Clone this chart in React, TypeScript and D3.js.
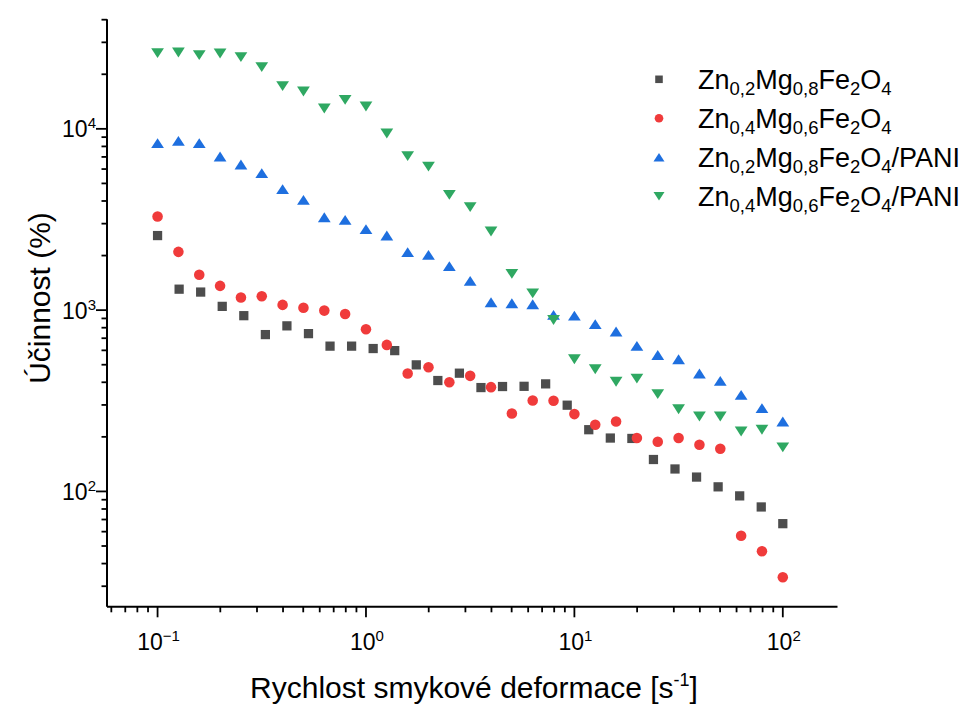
import React from 'react';
import * as d3 from 'd3';

// Shear rate values (s^-1)
const shearRate30 = [0.1, 0.1269, 0.161, 0.2043, 0.2593, 0.3291, 0.4175, 0.5298, 0.6723, 0.8532, 1.0826, 1.3738, 1.7433, 2.2122, 2.8072, 3.5622, 4.5204, 5.7362, 7.279, 9.2367, 11.721, 14.874, 18.874, 23.95, 30.392, 38.566, 48.939, 62.102, 78.805, 100];
const shearRate31 = [0.1, 0.1259, 0.1585, 0.1995, 0.2512, 0.3162, 0.3981, 0.5012, 0.631, 0.7943, 1, 1.259, 1.585, 1.995, 2.512, 3.162, 3.981, 5.012, 6.31, 7.943, 10, 12.59, 15.85, 19.95, 25.12, 31.62, 39.81, 50.12, 63.1, 79.43, 100];

// Efficiency (%)
const effZn02 = [2578, 1305, 1258, 1049, 932, 733, 819, 742, 633, 633, 614, 598, 499, 409, 449, 374, 379, 380, 392, 299, 219, 197, 196, 150, 133, 120, 106, 94.5, 82.1, 66.4];
const effZn04 = [3281, 2096, 1569, 1361, 1173, 1194, 1069, 1031, 994, 953, 785, 643, 447, 484, 400, 434, 376, 269, 317, 316, 267, 233, 243, 197, 188, 197, 181, 172, 57.0, 46.8, 33.6];
const effZn02Pani = [8340, 8585, 8340, 7035, 6355, 5695, 4648, 4058, 3256, 3147, 2797, 2578, 2088, 2018, 1748, 1450, 1106, 1092, 1078, 941, 933, 837, 762, 635, 566, 536, 447, 407, 341, 288, 243];
const effZn04Pani = [26170, 26370, 25510, 26030, 24870, 21900, 17200, 16060, 12940, 14450, 13280, 9420, 7070, 6190, 4325, 3700, 2713, 1585, 1237, 883, 536, 472, 403, 419, 344, 284, 259, 259, 214, 219, 175];

const xTickExps = [-1, 0, 1, 2];
const yTickExps = [2, 3, 4];

type Seg = { t: string; sub?: boolean };
const legendLabels: Seg[][] = [
  [{ t: 'Zn' }, { t: '0,2', sub: true }, { t: 'Mg' }, { t: '0,8', sub: true }, { t: 'Fe' }, { t: '2', sub: true }, { t: 'O' }, { t: '4', sub: true }],
  [{ t: 'Zn' }, { t: '0,4', sub: true }, { t: 'Mg' }, { t: '0,6', sub: true }, { t: 'Fe' }, { t: '2', sub: true }, { t: 'O' }, { t: '4', sub: true }],
  [{ t: 'Zn' }, { t: '0,2', sub: true }, { t: 'Mg' }, { t: '0,8', sub: true }, { t: 'Fe' }, { t: '2', sub: true }, { t: 'O' }, { t: '4', sub: true }, { t: '/PANI' }],
  [{ t: 'Zn' }, { t: '0,4', sub: true }, { t: 'Mg' }, { t: '0,6', sub: true }, { t: 'Fe' }, { t: '2', sub: true }, { t: 'O' }, { t: '4', sub: true }, { t: '/PANI' }],
];

const FONT = '"Liberation Sans", Arial, Helvetica, sans-serif';

type Shape = 'square' | 'circle' | 'up' | 'down';

function marker(shape: Shape, x: number, y: number, s: number, color: string, key: string) {
  if (shape === 'square') {
    const h = s * 0.42;
    return <rect key={key} x={x - h} y={y - h} width={2 * h} height={2 * h} fill={color} />;
  }
  if (shape === 'circle') {
    return <circle key={key} cx={x} cy={y} r={s * 0.48} fill={color} />;
  }
  const w = s * 0.58;
  const hh = s * 0.45;
  const p = shape === 'up'
    ? `M${x},${y - hh}L${x + w},${y + hh}L${x - w},${y + hh}Z`
    : `M${x},${y + hh}L${x + w},${y - hh}L${x - w},${y - hh}Z`;
  return <path key={key} d={p} fill={color} />;
}

export default function App() {
  const x = d3.scaleLog().domain([0.0572, 183]).range([107, 837.5]);
  const y = d3.scaleLog().domain([23.1, 40200]).range([606.8, 19.3]);

  const series = [
    { xs: shearRate30, ys: effZn02, color: '#4D4D4D', shape: 'square' as Shape },
    { xs: shearRate31, ys: effZn04, color: '#F03B3B', shape: 'circle' as Shape },
    { xs: shearRate31, ys: effZn02Pani, color: '#1E6FDF', shape: 'up' as Shape },
    { xs: shearRate31, ys: effZn04Pani, color: '#2FA862', shape: 'down' as Shape },
  ];

  const [x0, x1] = x.range();
  const [yb, yt] = y.range();

  const xMinor: number[] = [];
  const yMinor: number[] = [];
  for (let e = -2; e <= 2; e++) {
    for (let m = 2; m <= 9; m++) {
      const v = m * Math.pow(10, e);
      if (v >= x.domain()[0] && v <= x.domain()[1]) xMinor.push(v);
    }
  }
  for (let e = 1; e <= 4; e++) {
    for (let m = 2; m <= 9; m++) {
      const v = m * Math.pow(10, e);
      if (v >= y.domain()[0] && v <= y.domain()[1] * 1.001) yMinor.push(v);
    }
  }

  return (
    <svg width={969} height={705} style={{ position: 'absolute', left: 0, top: 0, background: '#fff' }} fontFamily={FONT}>
      <rect width={969} height={705} fill="#fff" />
      {/* axes */}
      <g stroke="#000" strokeWidth={1.8} fill="none">
        <line x1={x0} y1={yb} x2={x1} y2={yb} strokeWidth={2} />
        <line x1={x0} y1={yb} x2={x0} y2={yt} strokeWidth={2} />
        {xTickExps.map((e) => (
          <line key={'xM' + e} x1={x(Math.pow(10, e))} x2={x(Math.pow(10, e))} y1={yb} y2={yb + 10.5} />
        ))}
        {xMinor.map((v, i) => (
          <line key={'xm' + i} x1={x(v)} x2={x(v)} y1={yb} y2={yb + 5.5} />
        ))}
        {yTickExps.map((e) => (
          <line key={'yM' + e} x1={x0} x2={x0 - 11} y1={y(Math.pow(10, e))} y2={y(Math.pow(10, e))} />
        ))}
        {yMinor.map((v, i) => (
          <line key={'ym' + i} x1={x0} x2={x0 - 5.5} y1={y(v)} y2={y(v)} />
        ))}
      </g>
      {/* tick labels */}
      <g fontSize={23} fill="#000">
        {xTickExps.map((e) => (
          <text key={'xl' + e} x={x(Math.pow(10, e)) + 1} y={650} textAnchor="middle">
            10<tspan dy={-9} fontSize={15}>{e < 0 ? '\u2212' + Math.abs(e) : String(e)}</tspan>
          </text>
        ))}
        {yTickExps.map((e) => (
          <text key={'yl' + e} x={96} y={y(Math.pow(10, e)) + 8.5} textAnchor="end">
            10<tspan dy={-9} fontSize={15}>{String(e)}</tspan>
          </text>
        ))}
      </g>
      {/* axis titles */}
      <text x={474} y={698} fontSize={30} textAnchor="middle" fill="#000">
        Rychlost smykové deformace [s<tspan dy={-12} fontSize={18}>-1</tspan><tspan dy={12}>]</tspan>
      </text>
      <text transform="translate(50,298) rotate(-90)" fontSize={30} textAnchor="middle" fill="#000">
        Účinnost (%)
      </text>
      {/* data */}
      {series.map((s, si) => (
        <g key={'s' + si}>
          {s.ys.map((v, i) => marker(s.shape, x(s.xs[i]), y(v), 11, s.color, si + '-' + i))}
        </g>
      ))}
      {/* legend */}
      {series.map((s, i) => {
        const cy = 79.3 + i * 39;
        return (
          <g key={'lg' + i}>
            {marker(s.shape, 659, cy, s.shape === 'square' ? 9 : s.shape === 'circle' ? 9 : 9.5, s.color, 'lm' + i)}
            <text x={698} y={cy + 9.7} fontSize={27} fill="#000">
              {legendLabels[i].map((seg, j) => {
                const prev = j > 0 ? legendLabels[i][j - 1] : null;
                let dy = 0;
                if (seg.sub && !(prev && prev.sub)) dy = 6;
                if (!seg.sub && prev && prev.sub) dy = -6;
                return (
                  <tspan key={j} dy={dy} fontSize={seg.sub ? 18.5 : 27}>{seg.t}</tspan>
                );
              })}
            </text>
          </g>
        );
      })}
    </svg>
  );
}
